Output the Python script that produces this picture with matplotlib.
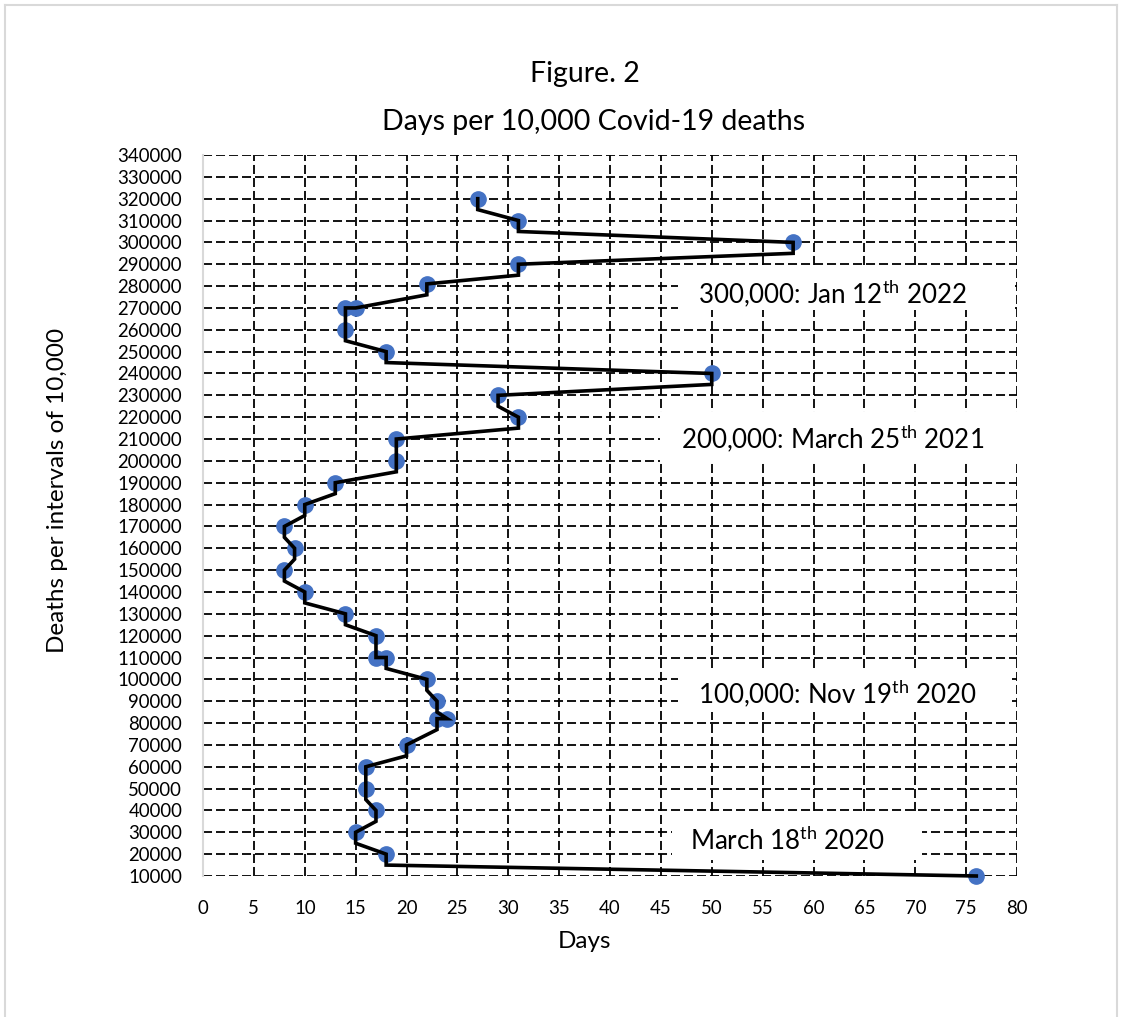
import numpy as np
import matplotlib
matplotlib.use("Agg")
import matplotlib.pyplot as plt
from matplotlib.patches import Rectangle
from matplotlib.lines import Line2D

# ---- data (top of curve first) ---------------------------------------------
deaths = [320000, 310000, 300000, 290000, 281000, 270000, 270000, 260000,
          250000, 240000, 230000, 220000, 210000, 200000, 190000, 180000,
          170000, 160000, 150000, 140000, 130000, 120000, 110000, 110000,
          100000, 90000, 82000, 82000, 70000, 60000, 50000, 40000,
          30000, 20000, 10000]
days = [27, 31, 58, 31, 22, 15, 14, 14,
        18, 50, 29, 31, 19, 19, 13, 10,
        8, 9, 8, 10, 14, 17, 17, 18,
        22, 23, 24, 23, 20, 16, 16, 17,
        15, 18, 76]

y_ticks = list(range(10000, 340001, 10000))
x_ticks = list(range(0, 81, 5))

notes = ["300,000: Jan 12$^{\\mathregular{th}}$ 2022",
         "200,000: March 25$^{\\mathregular{th}}$ 2021",
         "100,000: Nov 19$^{\\mathregular{th}}$ 2020",
         "March 18$^{\\mathregular{th}}$ 2020"]

# connecting line: drop half an interval below each point before moving on
lx, ly = [], []
for i, (d, n) in enumerate(zip(days, deaths)):
    lx.append(d); ly.append(n)
    if i + 1 < len(deaths) and deaths[i + 1] < n:
        lx.append(d); ly.append(n - 5000)

# ---- styling ---------------------------------------------------------------
plt.rcParams["font.family"] = ["Lato", "DejaVu Sans"]
plt.rcParams["mathtext.fontset"] = "custom"
plt.rcParams["mathtext.rm"] = "Lato"
BLUE, INK, FRAME = "#4472C4", "#000000", "#d9d9d9"

W, H = 1122, 1017
fig = plt.figure(figsize=(W / 100, H / 100), dpi=100)

def fx(px):
    return px / W

def fy(py):
    return 1 - py / H

ax = fig.add_axes([fx(203), fy(876), fx(1017 - 203), (876 - 155) / H])
ax.plot(days, deaths, "o", color=BLUE, ms=11, zorder=3, clip_on=False)
ax.plot(lx, ly, color=INK, lw=2.6, zorder=4, solid_joinstyle="miter", clip_on=False)

ax.set_xlim(0, 80)
ax.set_ylim(10000, 340000)
ax.set_xticks(x_ticks)
ax.set_yticks(y_ticks)
ax.set_yticklabels([str(v) for v in y_ticks])
ax.tick_params(length=0, labelsize=13.4, colors="#000000")
ax.tick_params(axis="y", pad=15)
ax.tick_params(axis="x", pad=17)
ax.grid(True, color=INK, ls=(0, (5, 2.2)), lw=1.3)
ax.set_axisbelow(True)
for s in ["top", "right", "bottom"]:
    ax.spines[s].set_visible(False)
ax.spines["left"].set_color(FRAME)
ax.spines["left"].set_linewidth(1.5)

# ---- annotation boxes ------------------------------------------------------
boxes = [(678, 265, 1015, 310), (660, 412, 1017, 462),
         (678, 668, 1012, 712), (672, 813, 922, 860)]
text_pos = [(832, 303), (833, 448), (837, 703), (788, 850)]
for (x0, y0, x1, y1), (tx, ty), s in zip(boxes, text_pos, notes):
    fig.patches.append(Rectangle((fx(x0), fy(y1)), fx(x1 - x0), (y1 - y0) / H,
                                 transform=fig.transFigure, fc="white",
                                 ec="none", zorder=5))
    fig.text(fx(tx), fy(ty), s, ha="center", va="baseline", fontsize=18.6,
             color=INK, zorder=6)

# ---- titles and axis labels ------------------------------------------------
fig.text(fx(585), fy(82), "Figure. 2", ha="center", va="baseline", fontsize=20.5)
fig.text(fx(594), fy(130), "Days per 10,000 Covid-19 deaths", ha="center",
         va="baseline", fontsize=20.5)
fig.text(fx(585), fy(948), "Days", ha="center", va="baseline", fontsize=17.5)
fig.text(fx(57.5), fy(490), "Deaths per intervals of 10,000", rotation=90,
         ha="center", va="center", fontsize=17.5)

# chart-area frame (bottom edge falls outside the picture)
for xs, ys in [([5, 5], [5, H]), ([5, 1117], [5, 5]), ([1117, 1117], [5, H])]:
    fig.lines.append(Line2D([fx(v) for v in xs], [fy(v) for v in ys],
                            transform=fig.transFigure, color=FRAME, lw=1.5))

fig.savefig("out.png", dpi=100)
